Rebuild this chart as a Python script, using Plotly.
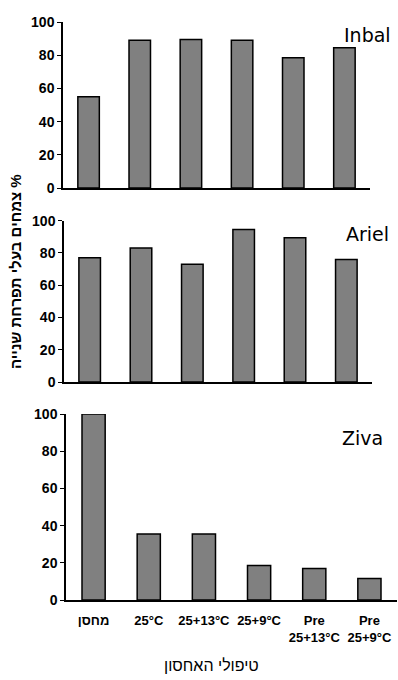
import plotly.graph_objects as go

categories = ["מחסן", "25°C", "25+13°C", "25+9°C", "Pre<br>25+13°C", "Pre<br>25+9°C"]
inbal = [55, 89, 89.5, 89, 78.5, 84.5]
ariel = [77, 83, 73, 94.5, 89.5, 76]
ziva = [100, 35.5, 35.5, 18.5, 17, 11.5]
panel_names = ["Inbal", "Ariel", "Ziva"]
y_ticks = [0, 20, 40, 60, 80, 100]
y_title = "צמחים בעלי תפרחת שנייה %"
x_title = "טיפולי האחסון"

W, H = 398, 680
fig = go.Figure()

series = [inbal, ariel, ziva]
# pixel layout (x0, x1, ytop, ybottom)
panels = [(63, 370, 22, 188), (64, 372, 220.7, 382), (66, 397, 414, 600)]
label_pos = [(367, 35), (367, 234), (362, 438)]

for i, (vals, (x0, x1, yt, yb)) in enumerate(zip(series, panels)):
    n = "" if i == 0 else str(i + 1)
    fig.add_trace(go.Bar(
        x=categories, y=vals, xaxis="x" + n, yaxis="y" + n,
        width=0.42,
        marker=dict(color="#808080", line=dict(color="black", width=1.5)),
        showlegend=False, hoverinfo="skip",
    ))
    fig.layout["xaxis" + n] = dict(
        domain=[x0 / W, x1 / W], anchor="y" + n,
        showline=True, linecolor="black", linewidth=1.5,
        showgrid=False, zeroline=False, ticks="",
        showticklabels=(i == 2), automargin=False,
        tickfont=dict(family="Liberation Sans, DejaVu Sans", size=13, color="black", weight="bold"),
        ticklabelstandoff=8,
        fixedrange=True,
    )
    fig.layout["yaxis" + n] = dict(
        domain=[1 - yb / H, 1 - yt / H], anchor="x" + n,
        range=[0, 100], tickvals=y_ticks, automargin=False,
        showline=True, linecolor="black", linewidth=1.5,
        showgrid=False, zeroline=False,
        ticks="outside", ticklen=4, tickwidth=1.2, tickcolor="black",
        tickfont=dict(family="Liberation Sans, Arial", size=14, color="black", weight="bold"),
        fixedrange=True,
    )
    lx, ly = label_pos[i]
    fig.add_annotation(
        x=lx / W, y=1 - ly / H, xref="paper", yref="paper",
        text=panel_names[i], showarrow=False,
        font=dict(family="DejaVu Sans, Lato", size=19, color="black"),
        xanchor="center", yanchor="middle",
    )

fig.add_annotation(
    x=15 / W, y=1 - 272 / H, xref="paper", yref="paper",
    text=y_title, textangle=-90, showarrow=False,
    font=dict(family="Liberation Sans, DejaVu Sans", size=15, color="black", weight="bold"),
    xanchor="center", yanchor="middle",
)
fig.add_annotation(
    x=211 / W, y=1 - 665 / H, xref="paper", yref="paper",
    text=x_title, showarrow=False,
    font=dict(family="Liberation Sans, DejaVu Sans", size=16, color="black"),
    xanchor="center", yanchor="middle",
)

fig.update_layout(
    width=W, height=H,
    margin=dict(l=0, r=0, t=0, b=0, pad=0),
    paper_bgcolor="white", plot_bgcolor="white",
    bargap=0.58,
)

fig.write_html(
    "out.html",
    config={"displayModeBar": False},
    post_script="document.body.style.margin='0';document.body.style.overflow='hidden';",
)
